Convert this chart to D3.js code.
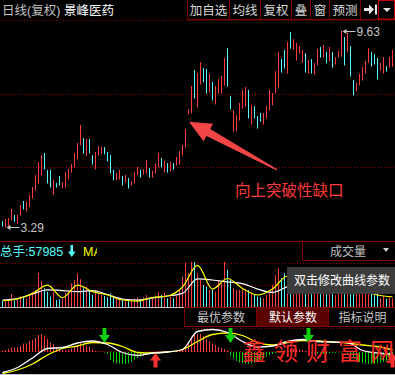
<!DOCTYPE html>
<html>
<head>
<meta charset="utf-8">
<script src="https://cdn.jsdelivr.net/npm/d3@7/dist/d3.min.js"></script>
<style>
  html, body { margin: 0; padding: 0; background: #000; overflow: hidden; }
  svg { display: block; }
</style>
</head>
<body>
<div id="chart"></div>
<script>
// daily K line, one entry per trading day
var highs = [3.48, 3.55, 3.58, 3.87, 3.68, 3.68, 4.00, 4.13, 4.10, 4.32,
  4.58, 4.97, 5.39, 5.61, 5.68, 5.13, 5.13, 4.81, 4.71, 4.94,
  4.74, 5.06, 5.16, 5.32, 5.68, 6.00, 6.58, 6.16, 6.13, 6.13,
  5.61, 5.71, 5.90, 5.87, 5.87, 5.71, 5.61, 5.13, 5.03, 5.13,
  4.94, 4.97, 4.87, 4.77, 5.06, 5.23, 5.13, 5.16, 5.45, 5.19,
  5.10, 5.35, 5.68, 5.52, 5.42, 5.35, 5.39, 5.35, 5.55, 5.74,
  5.94, 6.45, 7.10, 7.84, 8.35, 8.26, 8.61, 8.42, 8.39, 8.23,
  7.97, 7.84, 8.06, 8.16, 8.74, 9.06, 7.52, 7.06, 6.90, 7.29,
  7.71, 7.81, 7.71, 7.23, 7.19, 6.87, 6.97, 6.97, 7.19, 7.71,
  7.61, 8.32, 8.94, 8.71, 9.00, 9.26, 9.58, 9.35, 9.23, 9.13,
  9.00, 8.90, 8.68, 8.71, 8.58, 9.03, 9.10, 9.16, 8.94, 9.10,
  8.94, 8.77, 8.97, 9.63, 9.42, 9.55, 9.13, 8.03, 7.94, 8.23,
  8.45, 8.65, 9.06, 8.94, 8.87, 8.74, 8.58, 8.77, 8.48, 8.77,
  9.00];
var lows = [3.32, 3.29, 3.32, 3.52, 3.48, 3.42, 3.68, 3.87, 3.81, 3.94,
  4.23, 4.48, 4.71, 4.97, 5.16, 4.71, 4.58, 4.35, 4.58, 4.65,
  4.55, 4.58, 4.84, 5.06, 5.23, 5.48, 5.94, 5.68, 5.61, 5.68,
  5.32, 5.16, 5.61, 5.68, 5.65, 5.42, 5.03, 4.81, 4.81, 4.84,
  4.65, 4.74, 4.55, 4.65, 4.71, 4.97, 4.90, 5.00, 5.03, 4.90,
  4.90, 5.03, 5.23, 5.23, 5.06, 5.06, 5.10, 5.16, 5.29, 5.32,
  5.61, 5.87, 6.94, 6.97, 7.45, 7.16, 7.90, 7.97, 7.61, 7.65,
  7.39, 7.26, 7.61, 7.61, 7.87, 7.84, 7.10, 6.39, 6.39, 6.74,
  7.13, 7.19, 6.81, 6.61, 6.81, 6.48, 6.71, 6.61, 6.81, 7.06,
  7.23, 7.61, 7.81, 8.29, 8.42, 8.26, 9.06, 9.03, 8.68, 8.90,
  8.61, 8.29, 8.26, 8.26, 8.23, 8.52, 8.77, 8.77, 8.58, 8.65,
  8.45, 8.55, 8.77, 8.81, 8.52, 8.94, 8.16, 7.55, 7.68, 7.87,
  8.03, 8.26, 8.61, 8.48, 8.55, 8.06, 8.35, 8.26, 8.32, 8.45,
  8.48];
// 1 = up day (red), 0 = down day (cyan)
var rise = [0, 1, 1, 1, 0, 1, 1, 0, 1, 1,
  1, 1, 1, 1, 0, 0, 0, 1, 0, 0,
  1, 1, 1, 1, 1, 1, 1, 0, 1, 0,
  0, 1, 1, 1, 0, 0, 0, 0, 1, 1,
  0, 1, 0, 1, 1, 1, 0, 1, 1, 0,
  1, 1, 1, 0, 1, 0, 1, 0, 1, 1,
  1, 1, 1, 1, 0, 1, 1, 0, 0, 1,
  0, 1, 1, 1, 1, 0, 0, 1, 1, 1,
  1, 1, 0, 1, 0, 0, 0, 1, 1, 1,
  1, 1, 1, 0, 0, 1, 0, 1, 1, 1,
  1, 0, 1, 0, 1, 1, 0, 1, 0, 1,
  0, 1, 1, 1, 0, 1, 0, 0, 1, 1,
  1, 1, 1, 0, 0, 0, 1, 1, 0, 1,
  1];

// volume (手)
var volumes = [40000, 47000, 52000, 88000, 43000, 47000, 74000, 65000, 58000, 88000,
  103000, 115000, 231000, 171000, 126000, 103000, 70000, 103000, 47000, 52000,
  58000, 97000, 115000, 160000, 182000, 227000, 187000, 126000, 137000, 115000,
  81000, 115000, 92000, 81000, 74000, 65000, 92000, 70000, 58000, 52000,
  47000, 43000, 40000, 47000, 58000, 65000, 52000, 65000, 81000, 58000,
  65000, 74000, 103000, 81000, 97000, 58000, 70000, 58000, 74000, 115000,
  204000, 299000, 227000, 305000, 302000, 227000, 182000, 148000, 137000, 115000,
  115000, 103000, 182000, 160000, 305000, 250000, 187000, 126000, 115000, 115000,
  126000, 119000, 115000, 92000, 81000, 70000, 65000, 58000, 81000, 92000,
  148000, 216000, 261000, 194000, 227000, 200000, 180000, 140000, 130000, 100000,
  110000, 120000, 100000, 95000, 90000, 130000, 110000, 120000, 95000, 100000,
  105000, 80000, 90000, 210000, 170000, 150000, 160000, 140000, 90000, 95000,
  100000, 105000, 130000, 95000, 80000, 95000, 60000, 75000, 55000, 65000,
  57985];
var maStep = 5;
var volMa5 = [42000, 54000, 91000, 148000, 64000, 148000, 104000, 81000, 47000, 40000,
  64000, 74000, 135000, 280000, 121000, 192000, 125000, 81000, 121000, 209000,
  169000, 135000, 148000, 162000, 115000, 81000, 69000];
var volMa10 = [47000, 57000, 88000, 115000, 111000, 104000, 111000, 84000, 54000, 47000,
  61000, 74000, 92000, 189000, 182000, 169000, 158000, 121000, 98000, 137000,
  162000, 155000, 152000, 155000, 135000, 108000, 94000];

// MACD histogram, one per day
var macdBars = [0.02, 0.04, 0.06, 0.09, 0.09, 0.09, 0.12, 0.17, 0.17, 0.22,
  0.24, 0.28, 0.34, 0.36, 0.32, 0.26, 0.19, 0.16, 0.09, 0.06,
  0.04, 0.04, 0.05, 0.07, 0.10, 0.13, 0.19, 0.16, 0.13, 0.10,
  0.05, 0.02, 0.01, 0.01, -0.01, -0.04, -0.16, -0.21, -0.23, -0.23,
  -0.24, -0.24, -0.23, -0.20, -0.16, -0.12, -0.09, -0.08, -0.06, -0.04,
  -0.01, 0.01, 0.01, 0.01, 0.02, 0.01, 0.01, 0.02, 0.02, 0.03,
  0.04, 0.10, 0.19, 0.29, 0.35, 0.36, 0.36, 0.32, 0.26, 0.22,
  0.17, 0.14, 0.10, 0.08, 0.06, 0.03, -0.08, -0.13, -0.18, -0.21,
  -0.23, -0.24, -0.24, -0.23, -0.21, -0.18, -0.15, -0.12, -0.09, -0.06,
  -0.04, -0.02, 0.01, 0.03, 0.04, 0.05, 0.06, 0.06, 0.06, 0.05,
  0.04, 0.02, -0.01, -0.02, -0.02, -0.03, -0.04, -0.04, -0.03, -0.03,
  -0.02, -0.02, -0.01, -0.01, 0.01, -0.01, -0.06, -0.12, -0.16, -0.20,
  -0.22, -0.23, -0.24, -0.24, -0.24, -0.23, -0.22, -0.20, -0.18, -0.16,
  -0.14];
var dif = [-0.43, -0.33, -0.14, 0.05, 0.07, 0.16, 0.20, 0.13, -0.03, -0.09,
  -0.04, -0.02, 0.03, 0.39, 0.43, 0.37, 0.19, 0.08, 0.10, 0.19,
  0.23, 0.19, 0.18, 0.17, 0.01, -0.04, -0.07];
var dea = [-0.45, -0.38, -0.26, -0.08, 0.05, 0.10, 0.17, 0.16, 0.09, -0.03,
  -0.04, -0.02, 0.03, 0.19, 0.33, 0.36, 0.31, 0.17, 0.12, 0.17,
  0.21, 0.20, 0.18, 0.16, 0.12, 0.09, 0.02];
var buySignals = [51, 130];
var sellSignals = [34, 76, 102];

var stockName = '景峰医药';
var totalVolume = 57985;
var topButtons = ['加自选', '均线', '复权', '叠', '窗', '预测'];
var macdTabs = ['最优参数', '默认参数', '指标说明'];
var watermark = ['鑫', '领', '财', '富', '网'];

var width = 395, height = 375;
var red = '#ff3c3c', cyan = '#54fcfc', green = '#00d000';
var gridColor = '#a00000', frame = '#800000';
var FONT = '"Liberation Sans","Noto Sans CJK SC",sans-serif';

var svg = d3.select('#chart').append('svg')
  .attr('width', width).attr('height', height)
  .style('font-family', FONT);
svg.append('rect').attr('width', width).attr('height', height).attr('fill', '#000');

var n = highs.length;
var x = d3.scaleLinear().domain([0, n - 1]).range([2.5, 392.5]);
var y = d3.scaleLinear().domain([3.29, 9.63]).range([227, 30.5]);
var vy = d3.scaleLinear().domain([0, 300000]).range([307, 262.5]);
var my = d3.scaleLinear().domain([-0.44, 0.46]).range([373, 328]);

function hline(yy, x1, x2, color, dash) {
  var l = svg.append('line')
    .attr('x1', x1).attr('x2', x2).attr('y1', yy).attr('y2', yy)
    .attr('stroke', color).attr('stroke-width', 1);
  if (dash) l.attr('stroke-dasharray', dash);
  return l;
}

// ---- main panel ----
var mainTop = 20, mainBottom = 241;
for (var k = 0; k < 3; k++) {
  var gy = Math.round(mainTop + k * (mainBottom - mainTop) / 3) + 0.5;
  hline(gy, 0, width, gridColor, '1,2');
}
hline(mainBottom + 0.5, 0, width, frame);

svg.append('g').selectAll('line')
  .data(highs)
  .enter()
  .append('line')
  .attr('x1', function(d, i) { return x(i); })
  .attr('x2', function(d, i) { return x(i); })
  .attr('y1', function(d) { return y(d); })
  .attr('y2', function(d, i) { return y(lows[i]) + 0.5; })
  .attr('stroke', function(d, i) { return rise[i] ? red : cyan; })
  .attr('stroke-width', 1);

// high / low markers
var hiIdx = d3.maxIndex(highs), loIdx = d3.minIndex(lows);
function priceTag(i, price) {
  var px = x(i) + 1, pyy = Math.round(y(price)) + 0.5;
  svg.append('line').attr('x1', px + 3).attr('x2', px + 13).attr('y1', pyy).attr('y2', pyy)
    .attr('stroke', '#c8c8c8');
  svg.append('path').attr('d', 'M' + px + ',' + pyy + 'l4,-2.5v5z').attr('fill', '#c8c8c8');
  svg.append('text').attr('x', px + 14).attr('y', pyy + 4.5)
    .attr('fill', '#c8c8c8').attr('font-size', 12).text(price.toFixed(2));
}
priceTag(hiIdx, highs[hiIdx]);
priceTag(loIdx, lows[loIdx]);

// gap annotation arrow, pointing at the gap day
var tip = [x(62) + 0.5, y(lows[62]) + 8];
var tail = [tip[0] + 88, tip[1] + 48];
var dx = tail[0] - tip[0], dy = tail[1] - tip[1], len = Math.sqrt(dx * dx + dy * dy);
var ux = dx / len, uy = dy / len, nx = -uy, ny = ux;
var hb = [tip[0] + ux * 22, tip[1] + uy * 22];
var arrowPts = [
  tip,
  [hb[0] + nx * 10, hb[1] + ny * 10],
  [hb[0] + nx * 4, hb[1] + ny * 4],
  [tail[0] + nx * 0.6, tail[1] + ny * 0.6],
  [tail[0] - nx * 0.6, tail[1] - ny * 0.6],
  [hb[0] - nx * 4, hb[1] - ny * 4],
  [hb[0] - nx * 10, hb[1] - ny * 10]
];
svg.append('path').attr('d', d3.line()(arrowPts) + 'Z').attr('fill', '#f24646');
svg.append('text').attr('x', 235).attr('y', 195.5)
  .attr('fill', '#ff3a3a').attr('font-size', 15.5).text('向上突破性缺口');

// ---- header ----
svg.append('text').attr('x', 2).attr('y', 15).attr('fill', '#c0c0c0')
  .attr('font-size', 12.5).text('日线(复权)');
svg.append('text').attr('x', 64).attr('y', 15).attr('fill', '#ffffff')
  .attr('font-size', 12.5).text(stockName);

var btnEdges = [187, 229, 260, 291, 310, 329, 360, 378, 395];
hline(19.5, 187, width, frame);
btnEdges.slice(0, 8).forEach(function(bx) {
  svg.append('line').attr('x1', bx + 0.5).attr('x2', bx + 0.5).attr('y1', 0).attr('y2', 19)
    .attr('stroke', frame);
});
topButtons.forEach(function(lbl, i) {
  svg.append('text').attr('x', (btnEdges[i] + btnEdges[i + 1]) / 2 + 0.5).attr('y', 15)
    .attr('text-anchor', 'middle').attr('fill', '#d8d8d8').attr('font-size', 12.5).text(lbl);
});
// "to end" icon
svg.append('path').attr('d', 'M364,8h5v-3.5l5,5l-5,5v-3.5h-5z').attr('fill', '#e8e8e8');
svg.append('rect').attr('x', 375).attr('y', 4.5).attr('width', 2).attr('height', 10).attr('fill', '#e8e8e8');
svg.append('rect').attr('x', 378.5).attr('y', 0.5).attr('width', 16).attr('height', 18.5)
  .attr('fill', 'none').attr('stroke', '#c80000');
svg.append('path').attr('d', 'M383,8h8l-4,4z').attr('fill', '#e0e0e0');

// ---- volume panel ----
hline(Math.round(vy(300000)) + 0.5, 0, width, gridColor, '1,2');
hline(Math.round(vy(150000)) + 0.5, 0, width, gridColor, '1,2');

svg.append('g').selectAll('line')
  .data(volumes)
  .enter()
  .append('line')
  .attr('x1', function(d, i) { return x(i); })
  .attr('x2', function(d, i) { return x(i); })
  .attr('y1', function(d) { return vy(d); })
  .attr('y2', vy(0))
  .attr('stroke', function(d, i) { return rise[i] ? red : cyan; });

var volLine = d3.line()
  .x(function(d, i) { return x(i * maStep); })
  .y(function(d) { return vy(d); })
  .curve(d3.curveMonotoneX);
svg.append('path').attr('d', volLine(volMa10)).attr('fill', 'none')
  .attr('stroke', '#ffffff').attr('stroke-width', 1.2);
svg.append('path').attr('d', volLine(volMa5)).attr('fill', 'none')
  .attr('stroke', '#ffff00').attr('stroke-width', 1.2);
hline(307.5, 0, width, '#d4c4c4');

svg.append('text').attr('x', 0).attr('y', 256).attr('fill', cyan)
  .attr('font-size', 12.5).text('总手:' + totalVolume);
svg.append('path').attr('d', 'M70.5,245h2.5v6.5h2.5l-3.75,5.5l-3.75,-5.5h2.5z').attr('fill', cyan);
svg.append('clipPath').attr('id', 'maclip').append('rect')
  .attr('x', 0).attr('y', 240).attr('width', 97).attr('height', 20);
svg.append('text').attr('x', 83).attr('y', 256).attr('fill', '#ffff00')
  .attr('clip-path', 'url(#maclip)').attr('font-size', 12.5).text('MA5');

svg.append('rect').attr('x', 302.5).attr('y', 241.5).attr('width', 93).attr('height', 19)
  .attr('fill', '#000').attr('stroke', frame);
svg.append('text').attr('x', 330).attr('y', 256).attr('fill', '#c0c0c0')
  .attr('font-size', 12).text('成交量');
svg.append('path').attr('d', 'M383,248h6l-3,4z').attr('fill', '#d0d0d0');

// tooltip
svg.append('rect').attr('x', 287).attr('y', 267).attr('width', 108).attr('height', 27)
  .attr('fill', '#3c3c3c');
svg.append('text').attr('x', 294).attr('y', 285).attr('fill', '#ffffff')
  .attr('font-size', 12).text('双击修改曲线参数');

// ---- MACD panel ----
hline(328.5, 0, width, gridColor, '1,2');
hline(Math.round(my(0)) + 0.5, 0, width, gridColor, '1,2');

svg.append('g').selectAll('line')
  .data(macdBars)
  .enter()
  .append('line')
  .attr('x1', function(d, i) { return x(i); })
  .attr('x2', function(d, i) { return x(i); })
  .attr('y1', my(0) + 1)
  .attr('y2', function(d) { return my(d) + 1; })
  .attr('stroke', function(d) { return d >= 0 ? red : green; });

var macdLine = d3.line()
  .x(function(d, i) { return x(i * maStep); })
  .y(function(d) { return my(d); })
  .curve(d3.curveMonotoneX);
svg.append('path').attr('d', macdLine(dea)).attr('fill', 'none')
  .attr('stroke', '#ffff00').attr('stroke-width', 1.3);
svg.append('path').attr('d', macdLine(dif)).attr('fill', 'none')
  .attr('stroke', '#ffffff').attr('stroke-width', 1.3);

sellSignals.forEach(function(i) {
  var cx = x(i);
  svg.append('path')
    .attr('d', 'M' + (cx - 2) + ',328h4v7h3.5l-5.5,8l-5.5,-8h3.5z')
    .attr('fill', '#10d010');
});
buySignals.forEach(function(i) {
  var cx = x(i);
  svg.append('path')
    .attr('d', 'M' + cx + ',353l5.5,7.5h-3.5v7h-4v-7h-3.5z')
    .attr('fill', '#ff3030');
});

// tabs
var tabEdges = [184, 256, 328, 395];
macdTabs.forEach(function(lbl, i) {
  var sel = i === 1;
  svg.append('rect').attr('x', tabEdges[i] + 0.5).attr('y', 307.5)
    .attr('width', tabEdges[i + 1] - tabEdges[i]).attr('height', 19)
    .attr('fill', sel ? '#5a0000' : '#000').attr('stroke', frame);
  svg.append('text').attr('x', (tabEdges[i] + tabEdges[i + 1]) / 2 + 1).attr('y', 322)
    .attr('text-anchor', 'middle').attr('fill', sel ? '#ffffff' : '#c8c8c8')
    .attr('font-size', 12).text(lbl);
});
hline(374.5, 0, width, '#c8c8c8');

// watermark, one glyph per slot
svg.append('g').selectAll('text')
  .data(watermark)
  .enter()
  .append('text')
  .attr('x', function(d, i) { return 254 + i * 32; })
  .attr('y', 360)
  .attr('text-anchor', 'middle')
  .attr('fill', '#ff2a2a')
  .attr('font-size', 24)
  .text(function(d) { return d; });
</script>
</body>
</html>
